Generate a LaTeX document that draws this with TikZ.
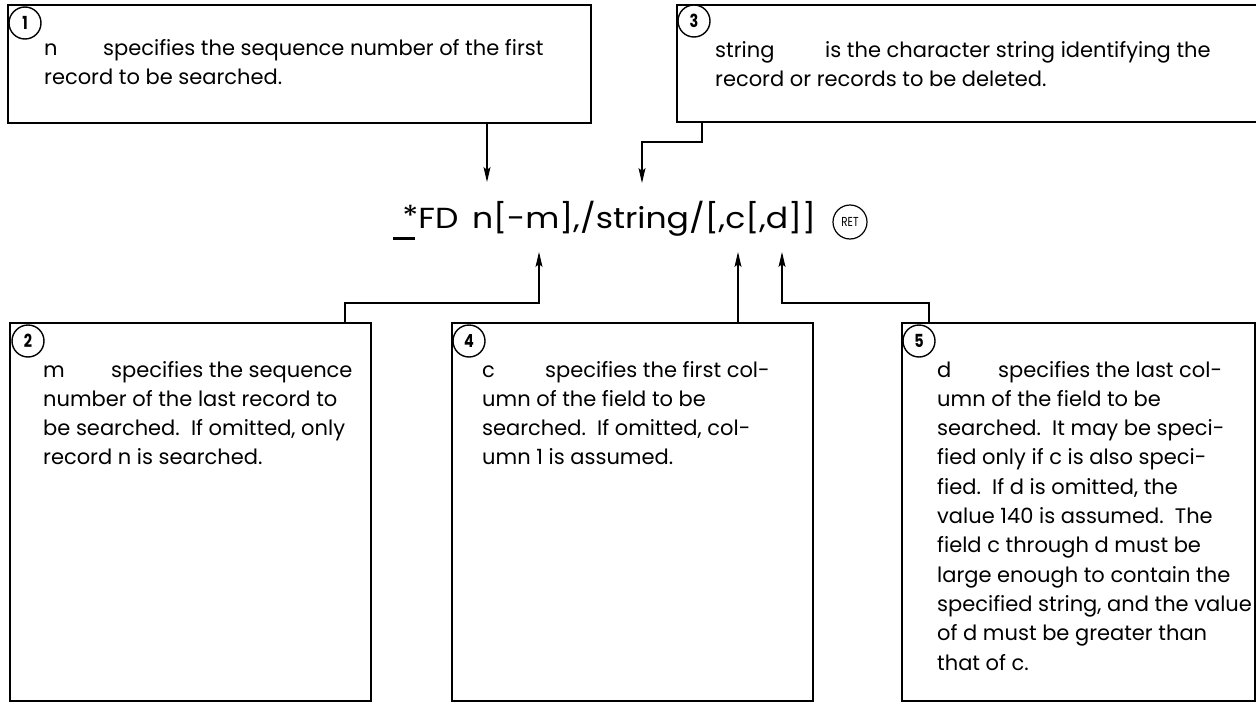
\documentclass[tikz,border=0pt]{standalone}
\usepackage{fontspec}
\setmainfont{Poppins}
\usetikzlibrary{arrows.meta}
\newcommand{\kw}[2]{\makebox[#1pt][l]{#2}}
\newcommand{\desctext}[1]{\parbox[t]{600pt}{\raggedright #1}}
\newcommand{\cnum}[1]{\scalebox{0.8}[1]{#1}}
\begin{document}
\begin{tikzpicture}[x=1pt,y=-1pt,
  box/.style={draw, line width=2.6pt, rectangle, anchor=north west, inner sep=0pt, outer sep=0pt},
  num/.style={draw, circle, line width=1.4pt, fill=white, minimum size=32pt, inner sep=0pt, font=\fontsize{18}{18}\selectfont\bfseries},
  conn/.style={line width=1.3pt, -{Stealth[length=15pt,width=7pt,inset=3pt]}},
  desc/.style={anchor=base west, inner sep=0pt, font=\fontsize{21}{29.3}\selectfont},
  ]
\useasboundingbox (0,0) rectangle (1256,704);
% boxes
\node[box, minimum width=583pt, minimum height=118pt] (b1) at (8,5) {};
\node[box, minimum width=590pt, minimum height=117pt] (b3) at (677,5) {};
\node[box, minimum width=361pt, minimum height=378pt] (b2) at (10,323) {};
\node[box, minimum width=361pt, minimum height=378pt] (b4) at (452,323) {};
\node[box, minimum width=353pt, minimum height=378pt] (b5) at (902,323) {};
% numbers
\node[num] (n1) at (25,23) {\cnum{1}};
\node[num] (n3) at (694,21) {\cnum{3}};
\node[num] (n2) at (28,341) {\cnum{2}};
\node[num] (n4) at (469,341) {\cnum{4}};
\node[num] (n5) at (919,341) {\cnum{5}};
% texts
\node[desc] (t1) at (44,55) {\desctext{\kw{59}{n}specifies the sequence number of the first\\record to be searched.}};
\node[desc] (t3) at (715,57) {\desctext{\kw{110}{string}is the character string identifying the\\record or records to be deleted.}};
\node[desc] (t2) at (43,377) {\desctext{\kw{68}{m}specifies the sequence\\number of the last record to\\be searched.\ \ If omitted, only\\record n is searched.}};
\node[desc] (t4) at (482,377) {\desctext{\kw{63}{c}specifies the first col-\\umn of the field to be\\searched.\ \ If omitted, col-\\umn 1 is assumed.}};
\node[desc] (t5) at (937,377) {\desctext{\kw{61}{d}specifies the last col-\\umn of the field to be\\searched.\ \ It may be speci-\\fied only if c is also speci-\\fied.\ \ If d is omitted, the\\value 140 is assumed.\ \ The\\field c through d must be\\large enough to contain the\\specified string, and the value\\of d must be greater than\\that of c.}};
% command
\node[anchor=base west, inner sep=0pt, font=\fontsize{29}{29}\selectfont] (cmd) at (393,228) {\scalebox{1.14}[1]{\rule[-12pt]{19pt}{2.6pt}\kern-11pt\raisebox{2pt}{*}FD\hspace{12pt}n[-m],/string/[,c[,d]]}};
\node[circle, draw, line width=1.2pt, minimum size=34pt, inner sep=0pt, font=\fontsize{13}{13}\selectfont] (ret) at (850,222) {\scalebox{0.8}[1]{RET}};
% arrow targets
\coordinate (a1) at (487,182);
\coordinate (a3) at (642,183);
\coordinate (a2) at (539,252);
\coordinate (a4) at (738,252);
\coordinate (a5) at (782,252);
% connectors
\draw[conn] (b1.south -| a1) -- (a1);
\draw[conn] (b3.south west) ++(25,0) -- ++(0,20) -| (a3);
\draw[conn] (b2.north west) ++(335,0) -- ++(0,-20) -| (a2);
\draw[conn] (b4.north -| a4) -- (a4);
\draw[conn] (b5.north west) ++(27,0) -- ++(0,-20) -| (a5);
\end{tikzpicture}
\end{document}
